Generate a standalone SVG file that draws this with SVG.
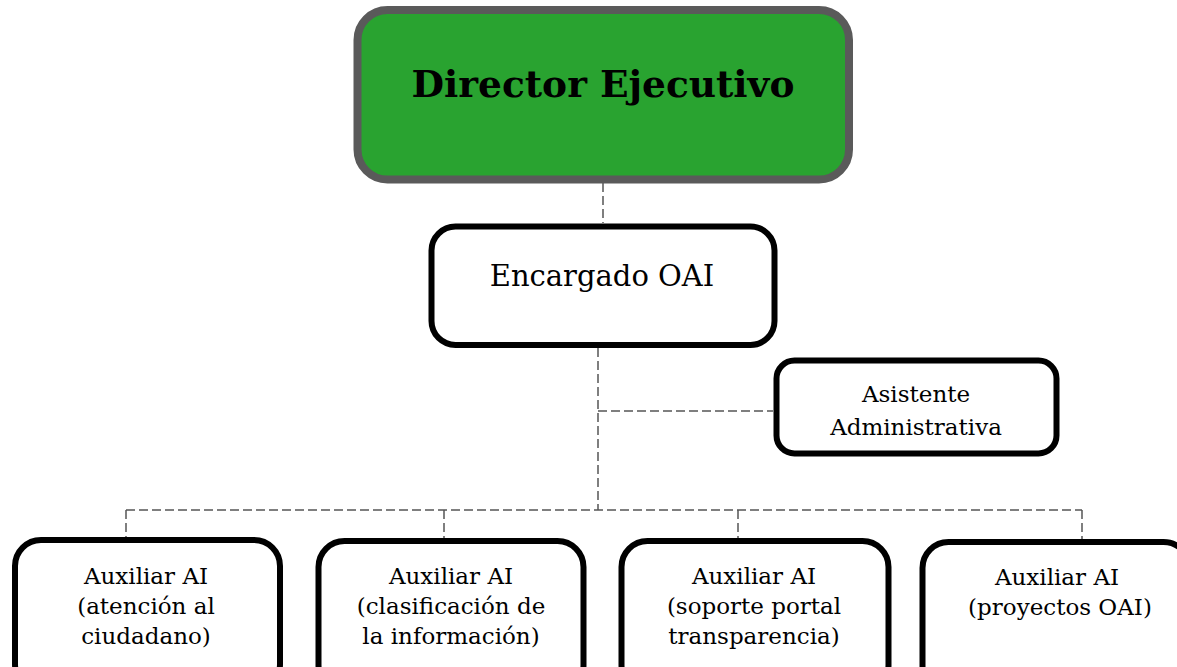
<svg xmlns="http://www.w3.org/2000/svg" width="1177" height="667" viewBox="0 0 1177 667">
  <style>
    .box { fill: #ffffff; stroke: #000000; stroke-width: 6; }
    .lbl { font-family: "DejaVu Serif", "Liberation Serif", serif; fill: #000000; text-anchor: middle; }
    .sm { font-size: 23px; }
    .conn { fill: none; stroke: #555555; stroke-width: 1.5; stroke-dasharray: 9 4; }
  </style>
  <rect width="1177" height="667" fill="#ffffff"/>
  <g id="connectors">
    <path class="conn" d="M603 183 V223"/>
    <path class="conn" d="M598 348 V510"/>
    <path class="conn" d="M598 411 H773"/>
    <path class="conn" d="M126 510 H1082"/>
    <path class="conn" d="M126 510 V537"/>
    <path class="conn" d="M444 510 V538"/>
    <path class="conn" d="M738 510 V538"/>
    <path class="conn" d="M1082 510 V539"/>
  </g>
  <g id="director">
    <rect x="357.5" y="10" width="491.5" height="169.5" rx="30" fill="#29a330" stroke="#5a5a5a" stroke-width="8"/>
    <text class="lbl" x="603" y="97" font-size="37.5" font-weight="bold">Director Ejecutivo</text>
  </g>
  <g id="encargado">
    <rect class="box" x="431.5" y="226.5" width="343" height="118.5" rx="24"/>
    <text class="lbl" x="602" y="286" font-size="29">Encargado OAI</text>
  </g>
  <g id="asistente">
    <rect class="box" x="776.5" y="360.5" width="280" height="93" rx="18"/>
    <text class="lbl sm" x="916" y="402">Asistente</text>
    <text class="lbl sm" x="916" y="435">Administrativa</text>
  </g>
  <g id="aux1">
    <rect class="box" x="15" y="540" width="265" height="150" rx="26"/>
    <text class="lbl sm" x="146" y="584">Auxiliar AI</text>
    <text class="lbl sm" x="146" y="614">(atención al</text>
    <text class="lbl sm" x="146" y="644">ciudadano)</text>
  </g>
  <g id="aux2">
    <rect class="box" x="318.5" y="541" width="265" height="150" rx="26"/>
    <text class="lbl sm" x="451" y="584">Auxiliar AI</text>
    <text class="lbl sm" x="451" y="614">(clasificación de</text>
    <text class="lbl sm" x="451" y="644">la información)</text>
  </g>
  <g id="aux3">
    <rect class="box" x="621.5" y="541" width="267" height="150" rx="26"/>
    <text class="lbl sm" x="754" y="584">Auxiliar AI</text>
    <text class="lbl sm" x="754" y="614">(soporte portal</text>
    <text class="lbl sm" x="754" y="644">transparencia)</text>
  </g>
  <g id="aux4">
    <rect class="box" x="922.5" y="542" width="267" height="150" rx="26"/>
    <text class="lbl sm" x="1057" y="585">Auxiliar AI</text>
    <text class="lbl sm" x="1060" y="615">(proyectos OAI)</text>
  </g>
</svg>
